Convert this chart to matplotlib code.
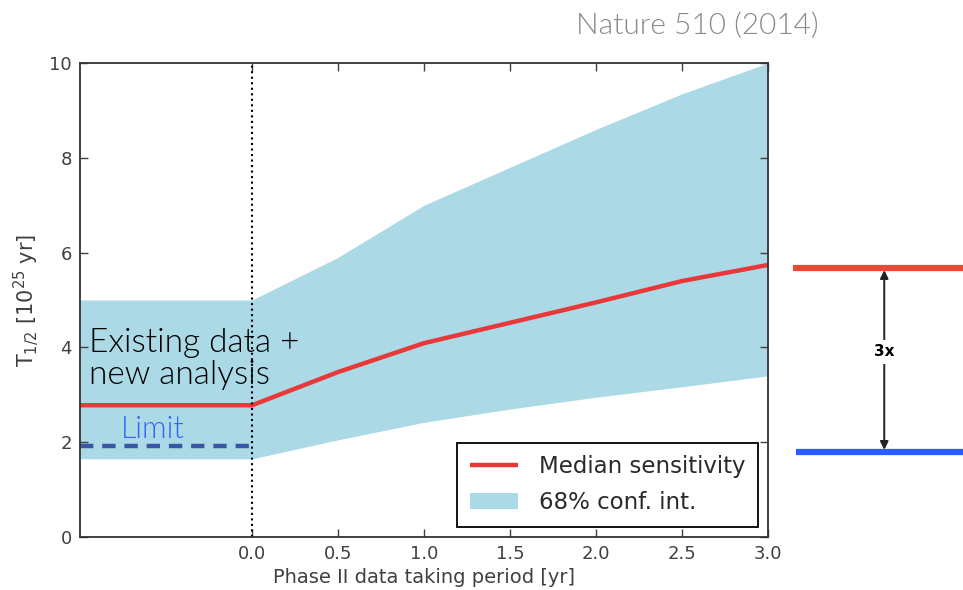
import matplotlib.pyplot as plt
import matplotlib.transforms as mtransforms
import numpy as np

# Sensitivity projection vs. Phase II exposure
years = [-1.0, 0.0, 0.5, 1.0, 1.5, 2.0, 2.5, 3.0]
median = [2.78, 2.78, 3.48, 4.09, 4.52, 4.95, 5.40, 5.74]
band_hi = [5.00, 5.00, 5.90, 7.00, 7.80, 8.60, 9.35, 10.0]
band_lo = [1.65, 1.65, 2.05, 2.42, 2.70, 2.95, 3.17, 3.40]

limit_x = [-1.0, 0.0]
limit_y = [1.92, 1.92]

# levels of the side bracket (median at 3 yr vs. current limit)
bracket_hi = 5.68
bracket_lo = 1.79
bracket_text = '3x'

xticks = [0.0, 0.5, 1.0, 1.5, 2.0, 2.5, 3.0]
yticks = [0, 2, 4, 6, 8, 10]

light = ['Lato', 'Open Sans', 'DejaVu Sans']
grey = '#404040'

fig = plt.figure(figsize=(9.63, 5.90), dpi=100)
ax = fig.add_axes([0.0831, 0.0898, 0.7144, 0.8034])

band = ax.fill_between(years, band_lo, band_hi, color='#abd9e5', lw=0,
                       label='68% conf. int.')
line, = ax.plot(years, median, color='#e8383a', lw=3.2,
                label='Median sensitivity', solid_capstyle='butt')
ax.plot(limit_x, limit_y, color='#3b55a6', lw=3.2, dashes=(3, 2))
ax.axvline(0.0, color='black', lw=1.5, ls=':')

ax.set_xlim(-1.0, 3.0)
ax.set_ylim(0, 10)
ax.set_xticks(xticks)
ax.set_xticklabels(['%.1f' % t for t in xticks])
ax.set_yticks(yticks)
ax.tick_params(direction='in', length=6, width=1, top=True, right=True,
               labelsize=13, labelcolor=grey, color=grey, pad=6)
for s in ax.spines.values():
    s.set_color('#333333')
    s.set_linewidth(1.3)

ax.set_xlabel('Phase II data taking period [yr]', fontsize=14, color=grey,
              labelpad=3)
ax.set_ylabel(r'T$_{1/2}$ [10$^{25}$ yr]', fontsize=15, color=grey,
              labelpad=6)

leg = ax.legend(handles=[line, band], loc='lower right', fontsize=16.5,
                fancybox=False, edgecolor='black', framealpha=1,
                handlelength=2.1, handletextpad=0.9, borderaxespad=0.45,
                labelspacing=0.55, borderpad=0.55)
leg.get_frame().set_linewidth(1.3)
for t in leg.get_texts():
    t.set_color('#2a2a2a')

ax.text(-0.95, 3.76, 'Existing data +\nnew analysis', fontsize=24,
        family=light, fontweight=300, color='black',
        va='center', ha='left', linespacing=1.1)
ax.text(-0.76, 2.27, 'Limit', fontsize=22, family=light, fontweight=300,
        color='#3366f5', va='center', ha='left')

# side bracket drawn outside the axes
tr = mtransforms.blended_transform_factory(ax.transAxes, ax.transData)
ax.plot([1.036, 1.29], [bracket_hi, bracket_hi], color='#e84a35', lw=4.5,
        transform=tr, clip_on=False, solid_capstyle='butt')
ax.plot([1.04, 1.29], [bracket_lo, bracket_lo], color='#2a5cff', lw=4.5,
        transform=tr, clip_on=False, solid_capstyle='butt')
ax.annotate('', xy=(1.169, bracket_hi - 0.05), xytext=(1.169, bracket_lo + 0.05),
            xycoords=tr, textcoords=tr,
            arrowprops=dict(arrowstyle='<|-|>', color='#222222', lw=1.4,
                            mutation_scale=12, shrinkA=0, shrinkB=0))
ax.text(1.169, (bracket_hi + bracket_lo) / 2 + 0.17, bracket_text, transform=tr,
        fontsize=11, fontweight='bold', ha='center', va='center',
        bbox=dict(facecolor='white', edgecolor='none', pad=3), clip_on=False)

fig.text(0.724, 0.957, 'Nature 510 (2014)', fontsize=21.5, family=light,
         fontweight=300, color='#8a8a8a', ha='center', va='center')

fig.savefig('out.png', dpi=100)
